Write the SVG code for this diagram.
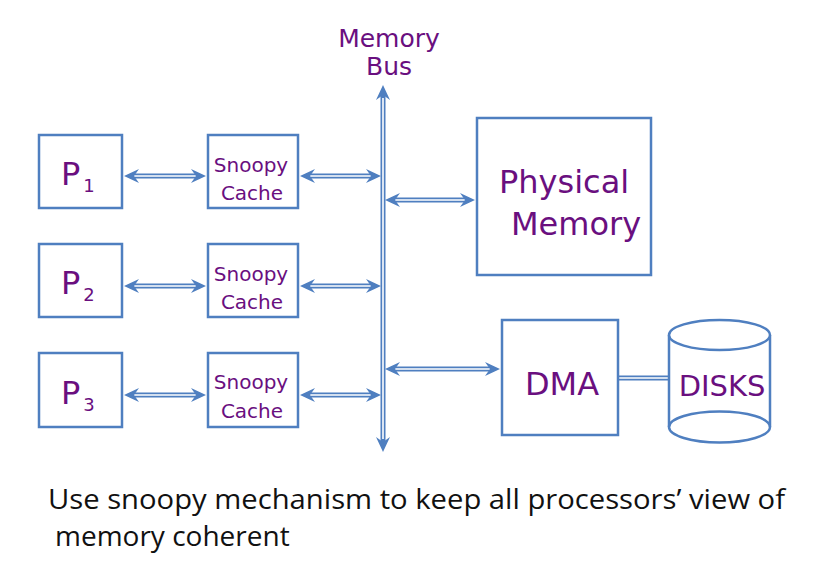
<svg xmlns="http://www.w3.org/2000/svg" width="815" height="562" viewBox="0 0 815 562">
<style>
.box{fill:#fff;stroke:#4F7FC0;stroke-width:2.5}
.t{font-family:"DejaVu Sans",Verdana,sans-serif;fill:#6A0F7F}
.o{stroke:#4F7FC0;stroke-width:5;fill:none}
.i{stroke:#fff;stroke-width:1.6;fill:none}
.h{fill:#4F7FC0;stroke:none}
.cap{font-family:"Open Sans",Lato,sans-serif;font-size:28px;fill:#111}
</style>
<rect width="815" height="562" fill="#fff"/>
<g id="connectors">
  <path class="o" d="M383,92V445"/><path class="i" d="M383,98V439"/>
  <path class="h" d="M383,85L376,100L383,95L390,100Z"/>
  <path class="h" d="M383,452L376,437L383,442L390,437Z"/>
  <g id="a1"><path class="o" d="M130,176H200"/><path class="i" d="M134,176H196"/>
    <path class="h" d="M124,176L139,169L134,176L139,183Z"/><path class="h" d="M206,176L191,169L196,176L191,183Z"/></g>
  <g id="a2"><path class="o" d="M306,176H375"/><path class="i" d="M310,176H371"/>
    <path class="h" d="M300,176L315,169L310,176L315,183Z"/><path class="h" d="M381,176L366,169L371,176L366,183Z"/></g>
  <g id="a3"><path class="o" d="M130,286H200"/><path class="i" d="M134,286H196"/>
    <path class="h" d="M124,286L139,279L134,286L139,293Z"/><path class="h" d="M206,286L191,279L196,286L191,293Z"/></g>
  <g id="a4"><path class="o" d="M306,286H375"/><path class="i" d="M310,286H371"/>
    <path class="h" d="M300,286L315,279L310,286L315,293Z"/><path class="h" d="M381,286L366,279L371,286L366,293Z"/></g>
  <g id="a5"><path class="o" d="M130,395H200"/><path class="i" d="M134,395H196"/>
    <path class="h" d="M124,395L139,388L134,395L139,402Z"/><path class="h" d="M206,395L191,388L196,395L191,402Z"/></g>
  <g id="a6"><path class="o" d="M306,395H375"/><path class="i" d="M310,395H371"/>
    <path class="h" d="M300,395L315,388L310,395L315,402Z"/><path class="h" d="M381,395L366,388L371,395L366,402Z"/></g>
  <g id="a7"><path class="o" d="M391,200H469"/><path class="i" d="M395,200H465"/>
    <path class="h" d="M385,200L400,193L395,200L400,207Z"/><path class="h" d="M475,200L460,193L465,200L460,207Z"/></g>
  <g id="a8"><path class="o" d="M391,369H494"/><path class="i" d="M395,369H490"/>
    <path class="h" d="M385,369L400,362L395,369L400,376Z"/><path class="h" d="M500,369L485,362L490,369L485,376Z"/></g>
  <g id="a9"><path class="o" d="M618,378H669"/><path class="i" d="M618,378H669"/></g>
</g>
<g id="bus-label"><text class="t" font-size="25" text-anchor="middle" x="389" y="47">Memory</text><text class="t" font-size="25" text-anchor="middle" x="389" y="75">Bus</text></g>
<g id="p1"><rect class="box" x="39" y="135" width="83" height="73"/><text class="t" font-size="32" x="61" y="185">P<tspan font-size="18" dx="3" dy="7">1</tspan></text></g>
<g id="p2"><rect class="box" x="39" y="244" width="83" height="73"/><text class="t" font-size="32" x="61" y="294">P<tspan font-size="18" dx="3" dy="7">2</tspan></text></g>
<g id="p3"><rect class="box" x="39" y="353" width="83" height="74"/><text class="t" font-size="32" x="61" y="404">P<tspan font-size="18" dx="3" dy="7">3</tspan></text></g>
<g id="c1"><rect class="box" x="208" y="135" width="90" height="73"/><text class="t" font-size="20" text-anchor="middle" x="251" y="172">Snoopy</text><text class="t" font-size="20" text-anchor="middle" x="252" y="200">Cache</text></g>
<g id="c2"><rect class="box" x="208" y="244" width="90" height="73"/><text class="t" font-size="20" text-anchor="middle" x="251" y="281">Snoopy</text><text class="t" font-size="20" text-anchor="middle" x="252" y="309">Cache</text></g>
<g id="c3"><rect class="box" x="208" y="353" width="90" height="74"/><text class="t" font-size="20" text-anchor="middle" x="251" y="389">Snoopy</text><text class="t" font-size="20" text-anchor="middle" x="252" y="418">Cache</text></g>
<g id="pm"><rect class="box" x="477" y="118" width="174" height="157"/><text class="t" font-size="32" x="499" y="193">Physical</text><text class="t" font-size="32" x="511" y="235">Memory</text></g>
<g id="dma"><rect class="box" x="502" y="320" width="116" height="115"/><text class="t" font-size="32" text-anchor="middle" x="562" y="395">DMA</text></g>
<g id="disks">
  <path class="box" d="M669,335V427A50.5,15.5 0 0 0 770,427V335"/>
  <ellipse class="box" cx="719.5" cy="335" rx="50.5" ry="15"/>
  <path class="box" d="M669,427A50.5,15.5 0 0 1 770,427" style="fill:none"/>
  <text class="t" font-size="29" text-anchor="middle" x="722" y="396">DISKS</text>
</g>
<g id="caption"><text class="cap" x="48" y="509" textLength="737" lengthAdjust="spacingAndGlyphs">Use snoopy mechanism to keep all processors’ view of</text><text class="cap" x="55" y="546">memory coherent</text></g>
</svg>
